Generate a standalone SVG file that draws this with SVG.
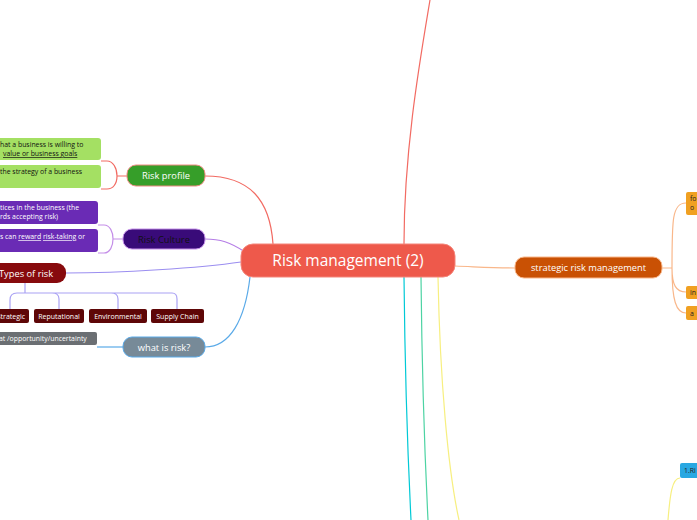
<svg xmlns="http://www.w3.org/2000/svg" width="697" height="520" viewBox="0 0 697 520">
<style>
text{font-family:"Open Sans",Lato,"Liberation Sans",sans-serif}
.c{fill:none;stroke-width:1.2}
.lbl{font-size:9.3px;fill:#fff;text-anchor:middle}
.sm{font-size:6.9px}
.tt{font-size:7px;fill:#fff;text-anchor:middle}
</style>
<rect width="697" height="520" fill="#fff"/>
<g id="connectors">
<path class="c" stroke="#f26b63" d="M404,244 C404,150 420,60 430,0"/>
<path class="c" stroke="#00c9d6" d="M404,277 C405,380 408,460 411,520"/>
<path class="c" stroke="#4dd3a3" d="M421,277 C422,380 425,460 428,520"/>
<path class="c" stroke="#f7ef80" d="M438,277 C440,380 448,470 459,520"/>
<path class="c" stroke="#f26b63" d="M273,244 C270,200 250,176 205,176"/>
<path class="c" stroke="#b57ee6" d="M245,252 C230,242 220,239 205,239"/>
<path class="c" stroke="#9b8ef0" d="M241,262 C200,268 120,273 66,273"/>
<path class="c" stroke="#5aaae8" d="M250,277 C245,320 230,347 205,347"/>
<path class="c" stroke="#f9b78a" d="M455,266 C480,267 495,268 515,268"/>
<path class="c" stroke="#f9b78a" d="M662,268 H672 M672,268 C672,220 672,203 686,203 M672,268 C672,285 676,292 686,292 M672,268 C672,300 676,313 686,313"/>
<path class="c" stroke="#f26b63" d="M127,176 H117 M101,161 H107 C113,161 117,168 117,176 C117,184 113,189 107,189 H101"/>
<path class="c" stroke="#c48ee8" d="M123,239 H113 M98,225 H104 C110,225 113,232 113,239 C113,246 110,253 104,253 H98"/>
<path class="c" stroke="#aaa2f4" d="M25,283 V293 M10,309 V300 C10,295 13,293 17,293 H172 C175,293 177,295 177,299 V309 M52,293 C57,293 59,295 59,299 V309 M111,293 C116,293 118,295 118,299 V309"/>
<path class="c" stroke="#5aaae8" d="M97,347 H123"/>
<path class="c" stroke="#f7ef80" d="M668,520 C670,495 672,478 680,478"/>
</g>
<g id="center">
<rect x="241" y="244" width="214" height="33" rx="12" fill="#ee594b" stroke="#f4857a" stroke-width="1"/>
<text x="348" y="266" font-size="15.5" fill="#fff" text-anchor="middle">Risk management (2)</text>
</g>
<g id="risk-profile">
<rect x="127" y="165" width="78" height="21" rx="9" fill="#369e29" stroke="#f08a82" stroke-width="1"/>
<text class="lbl" x="166" y="179">Risk profile</text>
</g>
<g id="profile-1">
<rect x="-6" y="138" width="107" height="22" rx="3" fill="#a4e063"/>
<text class="sm" x="0" y="146.5" fill="#111">hat a business is willing to</text>
<text class="sm" x="3" y="156" fill="#111" text-decoration="underline">value or business goals</text>
</g>
<g id="profile-2">
<rect x="-6" y="165" width="107" height="23" rx="3" fill="#a4e063"/>
<text class="sm" x="0" y="174" fill="#111">the strategy of a business</text>
</g>
<g id="risk-culture">
<rect x="123" y="229" width="82" height="20" rx="9" fill="#390b79" stroke="#c48ee8" stroke-width="1"/>
<text x="164" y="242.5" font-size="9.3" fill="#111" text-anchor="middle">Risk Culture</text>
</g>
<g id="culture-1">
<rect x="-6" y="201" width="104" height="23" rx="3" fill="#6a2bb5"/>
<text class="sm" x="0" y="210" fill="#fff">tices in the business (the</text>
<text class="sm" x="0" y="219" fill="#fff">rds accepting risk)</text>
</g>
<g id="culture-2">
<rect x="-6" y="229" width="104" height="23" rx="3" fill="#6a2bb5"/>
<text class="sm" x="0" y="239" fill="#fff">s can <tspan text-decoration="underline">reward</tspan> <tspan text-decoration="underline">risk-taking</tspan> or</text>
</g>
<g id="types">
<rect x="-10" y="263" width="76" height="20" rx="9" fill="#870a0d"/>
<text x="-1" y="276.5" font-size="9.3" fill="#fff">Types of risk</text>
</g>
<g id="strategic">
<rect x="-6" y="309" width="35" height="14" rx="2" fill="#5e0607"/>
<text class="tt" x="11" y="318.5">Strategic</text>
</g>
<g id="reputational">
<rect x="34" y="309" width="50" height="14" rx="2" fill="#5e0607"/>
<text class="tt" x="59" y="318.5">Reputational</text>
</g>
<g id="environmental">
<rect x="89" y="309" width="58" height="14" rx="2" fill="#5e0607"/>
<text class="tt" x="118" y="318.5">Environmental</text>
</g>
<g id="supply">
<rect x="151" y="309" width="53" height="14" rx="2" fill="#5e0607"/>
<text class="tt" x="177.5" y="318.5">Supply Chain</text>
</g>
<g id="what-is-risk">
<rect x="123" y="337" width="82" height="20" rx="9" fill="#778a98" stroke="#5aaae8" stroke-width="1"/>
<text class="lbl" x="164" y="350.5">what is risk?</text>
</g>
<g id="risk-def">
<rect x="-6" y="332" width="103" height="13" rx="2" fill="#6b6f73"/>
<text class="sm" x="-1" y="341" fill="#fff">at /opportunity/uncertainty</text>
</g>
<g id="strategic-rm">
<rect x="515" y="257" width="147" height="21" rx="9" fill="#c95104" stroke="#f9b78a" stroke-width="1"/>
<text class="lbl" x="588.5" y="271">strategic risk management</text>
</g>
<g id="srm-1">
<rect x="686" y="192" width="20" height="23" rx="2" fill="#f0a021"/>
<text class="sm" x="690" y="201" fill="#222">fo</text>
<text class="sm" x="690" y="210" fill="#222">o</text>
</g>
<g id="srm-2">
<rect x="686" y="286" width="20" height="13" rx="2" fill="#f0a021"/>
<text class="sm" x="690" y="295" fill="#222">in</text>
</g>
<g id="srm-3">
<rect x="686" y="306" width="20" height="14" rx="2" fill="#f0a021"/>
<text class="sm" x="690" y="315.5" fill="#222">a</text>
</g>
<g id="ri">
<rect x="680" y="463" width="25" height="15" rx="2" fill="#29a8e2"/>
<text class="sm" x="684" y="473" fill="#222">1.Ri</text>
</g>
</svg>
